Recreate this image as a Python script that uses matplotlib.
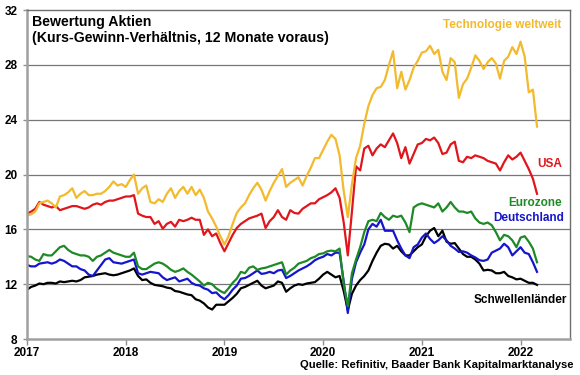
import numpy as np
import matplotlib.pyplot as plt

# semi-monthly points from Jan 2017 to early Mar 2022
n = 125
t = 2017 + np.arange(n) / 24

tech = [17.0, 17.1, 17.3, 17.9, 18.0, 18.1, 17.9, 17.6, 18.4, 18.5,
        18.7, 19.0, 18.3, 18.6, 18.8, 18.5, 18.5, 18.6, 18.6, 18.8,
        19.1, 19.5, 19.2, 19.3, 19.1, 19.6, 20.0, 18.6, 19.0, 19.2,
        18.0, 17.9, 18.2, 18.0, 18.6, 19.0, 18.3, 18.8, 19.1, 18.6,
        19.1, 18.5, 18.9, 18.3, 17.3, 16.8, 16.2, 15.5, 14.9, 15.5,
        16.4, 17.2, 17.6, 17.9, 18.5, 19.0, 19.4, 18.9, 18.1, 18.8,
        19.4, 19.9, 20.4, 19.1, 19.4, 19.6, 19.8, 19.2, 19.9, 20.5,
        21.2, 21.2, 21.8, 22.4, 22.9, 22.6, 21.4, 18.8, 16.9, 19.3,
        21.2, 22.1, 23.7, 25.0, 25.8, 26.3, 26.4, 26.9, 28.0, 29.0,
        26.3, 27.5, 26.2, 26.9, 27.8, 28.3, 28.9, 29.0, 29.4, 28.8,
        29.1, 27.5, 26.9, 28.5, 28.2, 25.6, 26.6, 27.0, 27.8, 28.7,
        28.3, 27.7, 28.2, 28.5, 28.1, 27.0, 28.3, 28.6, 29.3, 28.8,
        29.7, 28.6, 26.0, 26.2, 23.5]

usa = [17.15, 17.3, 17.5, 18.0, 17.8, 17.7, 17.6, 17.7, 17.4, 17.5,
       17.6, 17.7, 17.7, 17.6, 17.5, 17.6, 17.8, 17.9, 17.8, 18.0,
       18.1, 18.1, 18.2, 18.3, 18.4, 18.4, 18.5, 17.15, 17.0, 16.9,
       16.9, 16.4, 16.6, 16.05, 16.4, 16.55, 16.2, 16.7, 16.6, 16.7,
       16.85, 16.7, 16.7, 15.6, 16.0, 15.5, 15.7, 15.0, 14.4, 15.0,
       15.6, 16.1, 16.4, 16.6, 16.8, 16.9, 17.0, 17.15, 16.1, 16.6,
       16.9, 17.4, 16.9, 16.7, 17.4, 17.2, 17.15, 17.5, 17.7, 17.9,
       17.9, 18.2, 18.35, 18.5, 18.7, 19.0, 18.3, 16.5, 14.1, 17.3,
       20.6, 20.3, 21.9, 22.1, 21.4, 21.9, 22.2, 22.0, 22.5, 23.0,
       22.3, 21.2, 22.0, 20.8, 21.5, 22.2, 22.3, 22.6, 22.5, 22.7,
       22.3, 21.5, 21.6, 22.2, 22.4, 21.0, 20.9, 21.3, 21.2, 21.4,
       21.3, 21.2, 21.0, 20.9, 20.8, 20.3, 20.9, 21.4, 21.1, 21.3,
       21.6, 21.0, 20.4, 19.7, 18.6]

eurozone = [14.05, 14.0, 13.8, 13.7, 14.2, 14.1, 14.1, 14.4, 14.7, 14.8,
            14.5, 14.3, 14.2, 14.1, 14.1, 14.0, 13.7, 14.0, 14.1, 14.3,
            14.5, 14.3, 14.2, 14.1, 14.0, 14.0, 14.3, 13.3, 13.1, 13.1,
            13.3, 13.5, 13.6, 13.5, 13.3, 13.05, 12.9, 13.0, 13.15, 12.9,
            12.7, 12.45, 12.2, 11.9, 12.1, 12.0, 11.7, 11.5, 11.35, 11.7,
            12.1, 12.4, 12.9, 12.8, 13.2, 13.3, 13.05, 13.15, 13.2, 13.3,
            13.4, 13.5, 13.6, 12.7, 13.0, 13.2, 13.5, 13.6, 13.7, 13.9,
            14.0, 14.2, 14.25, 14.4, 14.45, 14.4, 14.6, 12.0, 10.4, 12.8,
            13.8, 14.7, 15.8, 16.6, 16.7, 16.6, 17.2, 16.9, 16.7, 17.0,
            16.9, 17.0, 16.5, 15.8, 17.6, 17.8, 17.9, 17.8, 17.7, 17.6,
            17.9, 17.3, 17.6, 18.0, 17.6, 17.3, 17.3, 17.2, 17.3, 16.8,
            16.5, 16.4, 16.5, 16.3, 15.8, 15.2, 15.6, 15.5, 15.2, 14.7,
            15.4, 15.5, 15.1, 14.6, 13.6]

deutschland = [13.4, 13.3, 13.3, 13.5, 13.55, 13.6, 13.5, 13.6, 13.8, 13.7,
               13.5, 13.3, 13.3, 13.1, 13.0, 12.7, 12.6, 13.0, 13.4, 13.8,
               13.9, 13.6, 13.55, 13.5, 13.6, 13.7, 13.8, 12.8, 12.7, 12.8,
               12.9, 12.85, 12.8, 12.5, 12.3, 12.4, 12.5, 12.2, 12.3, 12.4,
               12.1, 11.95, 11.9, 11.7, 11.6, 11.35, 11.4, 11.1, 10.9, 11.2,
               11.6, 11.9, 12.4, 12.45, 12.6, 12.8, 13.0, 12.75, 12.8, 12.9,
               12.8, 13.0, 13.05, 12.45, 12.6, 12.8, 13.0, 13.15, 13.3, 13.5,
               13.75, 13.9, 14.0, 14.2, 14.1, 14.3, 14.3, 12.2, 9.9, 12.4,
               13.6, 14.3, 14.9, 16.0, 16.4, 16.2, 16.7, 15.9, 15.9, 15.9,
               15.2, 14.6, 14.1, 13.9, 14.7, 14.9, 15.4, 15.7, 15.3, 15.0,
               15.2, 15.5, 15.2, 14.8, 14.6, 14.35, 14.4, 14.3, 14.1, 13.95,
               13.75, 13.7, 13.8, 14.3, 14.45, 14.6, 14.95, 14.7, 14.1, 14.4,
               14.7, 14.3, 14.2, 13.6, 12.9]

schwellen = [11.6, 11.8, 11.9, 12.05, 12.0, 12.1, 12.1, 12.05, 12.2, 12.15,
             12.2, 12.25, 12.2, 12.3, 12.5, 12.55, 12.6, 12.7, 12.75, 12.8,
             12.7, 12.65, 12.7, 12.8, 12.9, 13.0, 13.15, 12.6, 12.3, 12.35,
             12.1, 11.95, 11.9, 11.85, 11.75, 11.7, 11.5, 11.45, 11.35, 11.25,
             11.2, 10.9, 10.8, 10.6, 10.3, 10.15, 10.5, 10.5, 10.5, 10.75,
             11.0, 11.3, 11.7, 11.8, 11.95, 12.1, 12.25, 11.9, 11.7, 11.8,
             11.9, 12.2, 12.1, 11.45, 11.7, 11.9, 12.0, 11.95, 12.05, 12.1,
             12.15, 12.4, 12.7, 12.9, 12.7, 12.5, 12.6, 11.5, 10.1, 11.3,
             11.9, 12.3, 12.6, 13.0, 13.7, 14.3, 14.8, 14.95, 14.9, 14.6,
             14.8, 14.4, 14.1, 14.1, 14.4, 14.7, 14.9, 15.5, 15.9, 16.1,
             15.5, 15.9, 15.1, 14.95, 15.0, 14.6, 14.2, 14.0, 14.0, 13.8,
             13.5, 13.0, 13.05, 13.0, 12.8, 12.8, 12.9, 12.6, 12.5, 12.35,
             12.4, 12.25, 12.1, 12.1, 11.95]

years = [2017, 2018, 2019, 2020, 2021, 2022]
yticks = [8, 12, 16, 20, 24, 28, 32]

plt.rcParams['font.family'] = ['Liberation Sans', 'DejaVu Sans']

fig = plt.figure(figsize=(5.8, 3.75), dpi=100)
ax = fig.add_axes([0.0466, 0.096, 0.936, 0.877])

# name, values, colour, label y, label x (right end)
series = [
    ('Schwellenländer', schwellen, '#000000', 10.85, 2022.47),
    ('Deutschland', deutschland, '#1515CC', 16.8, 2022.44),
    ('Eurozone', eurozone, '#1E8A26', 17.9, 2022.42),
    ('USA', usa, '#E0161C', 20.8, 2022.42),
    ('Technologie weltweit', tech, '#F2BA2C', 30.9, 2022.41),
]
for name, vals, col, ly, lx in series:
    ax.plot(t, vals, color=col, lw=1.6, solid_joinstyle='round')
    ax.text(lx, ly, name, color=col, fontsize=8.5, fontweight='bold',
            ha='right', va='center')

ax.set_xlim(2017, 2022.5)
ax.set_ylim(8, 32)
ax.set_xticks(years)
ax.set_xticklabels([str(y) for y in years])
ax.set_yticks(yticks)
ax.set_yticklabels([str(y) for y in yticks])
for lab in ax.get_xticklabels() + ax.get_yticklabels():
    lab.set_fontweight('bold')
    lab.set_fontsize(8.5)
ax.tick_params(axis='x', direction='out', length=4, width=1, color='#909090', pad=1.5)
ax.tick_params(axis='y', direction='out', length=3, width=1, color='#909090', pad=4)

for yv in [12, 16, 20, 24, 28]:
    ax.axhline(yv, color='#777777', lw=0.9, zorder=0)

for side in ['left', 'bottom']:
    ax.spines[side].set_color('#A0A0A0')
    ax.spines[side].set_linewidth(1.8)
for side in ['top', 'right']:
    ax.spines[side].set_color('#6E6E6E')
    ax.spines[side].set_linewidth(1.0)

ax.text(0.01, 0.985, 'Bewertung Aktien\n(Kurs-Gewinn-Verhältnis, 12 Monate voraus)',
        transform=ax.transAxes, fontsize=10.2, fontweight='bold', va='top', ha='left',
        linespacing=1.15)

fig.text(0.988, 0.012, 'Quelle: Refinitiv, Baader Bank Kapitalmarktanalyse',
         fontsize=8.1, fontweight='bold', ha='right', va='bottom')

fig.savefig('out.png', dpi=100)
